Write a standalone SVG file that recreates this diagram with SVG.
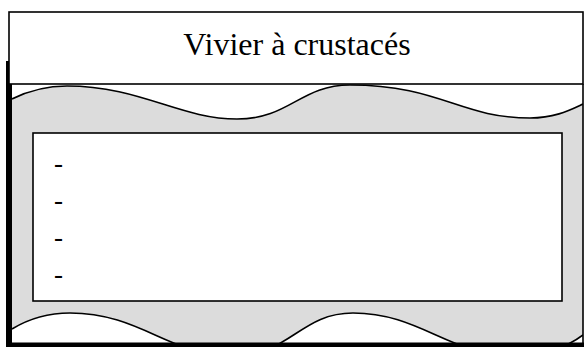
<svg xmlns="http://www.w3.org/2000/svg" width="584" height="347" viewBox="0 0 584 347">
<defs>
<clipPath id="tank"><rect x="12" y="84" width="571" height="259"/></clipPath>
</defs>
<rect width="584" height="347" fill="#fff"/>
<g id="tank-body">
<rect x="12" y="84" width="571" height="259" fill="#dcdcdc"/>
<g clip-path="url(#tank)" stroke="#000" stroke-width="1.6">
<path d="M12,84 L12,99 C30,90 50,86 67,86 C140,86 180,119 237,119 C290,119 300,85 350,85 C440,85 460,118 530,118 C555,118 570,110 583,104 L583,84 Z" fill="#fff" stroke="none"/>
<path fill="none" d="M12,99 C30,90 50,86 67,86 C140,86 180,119 237,119 C290,119 300,85 350,85 C440,85 460,118 530,118 C555,118 570,110 583,104"/>
<path d="M12,329 C30,318 50,313 70,313 C140,313 170,356 232,356 C290,356 300,313 353,313 C420,313 450,356 515,356 C545,356 570,345 583,335 L583,347 L12,347 Z" fill="#fff" stroke="none"/>
<path fill="none" d="M12,329 C30,318 50,313 70,313 C140,313 170,356 232,356 C290,356 300,313 353,313 C420,313 450,356 515,356 C545,356 570,345 583,335"/>
</g>
<line x1="583" y1="84" x2="583" y2="343" stroke="#000" stroke-width="1.6"/>
<rect x="6" y="61" width="6" height="286" fill="#000"/>
<rect x="6" y="342.5" width="578" height="4.5" fill="#000"/>
</g>
<g id="title">
<rect x="9" y="12" width="574" height="72" fill="#fff" stroke="#000" stroke-width="1.6"/>
<text x="297" y="55" font-size="32" text-anchor="middle" font-family="Liberation Serif" fill="#000">Vivier &#224; crustac&#233;s</text>
</g>
<g id="list">
<rect x="33" y="133" width="529" height="168" fill="#fff" stroke="#000" stroke-width="1.6"/>
<text x="54" y="172" font-size="27" font-family="Liberation Serif" fill="#000">-</text>
<text x="54" y="209" font-size="27" font-family="Liberation Serif" fill="#000">-</text>
<text x="54" y="246" font-size="27" font-family="Liberation Serif" fill="#000">-</text>
<text x="54" y="283" font-size="27" font-family="Liberation Serif" fill="#000">-</text>
</g>
<g id="connectors"/>
</svg>
